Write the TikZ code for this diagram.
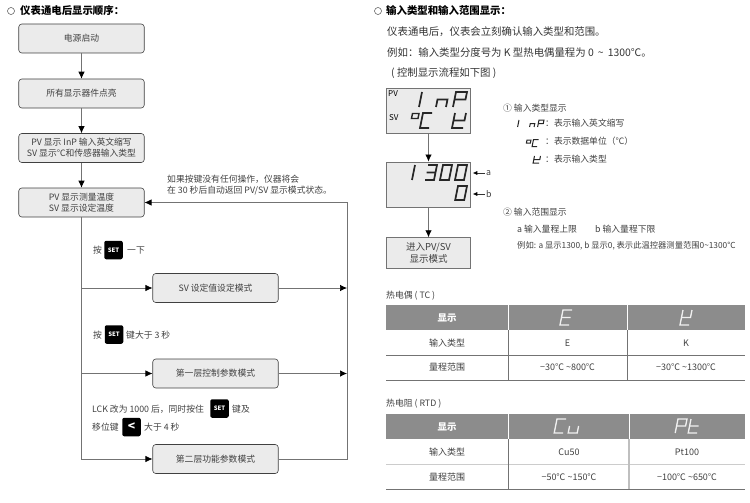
\documentclass[tikz,border=0pt]{standalone}
\usepackage{fontspec}
\setmainfont{Noto Sans CJK SC}
\usetikzlibrary{arrows.meta}
\definecolor{boxfill}{gray}{0.92}
\definecolor{inkgray}{gray}{0.25}
\definecolor{rulegray}{gray}{0.45}
\definecolor{headgray}{gray}{0.55}
\newcommand{\tld}{\textasciitilde}
\newcommand{\segchar}[6][segstroke]{\draw[#1,shift={(#2,#3)},x=#4pt,y=-#5pt,xslant=0.2] #6;}
\newcommand{\segI}{(1,0)--(1,2)}
\newcommand{\segN}{(0,2)--(0,1)--(1,1)--(1,2)}
\newcommand{\segU}{(0,1)--(0,2)--(1,2)--(1,1)}
\newcommand{\segP}{(0,2)--(0,0)--(1,0)--(1,1)--(0,1)}
\newcommand{\segC}{(1,0)--(0,0)--(0,2)--(1,2)}
\newcommand{\segO}{(0,0) rectangle (1,1)}
\newcommand{\segK}{(0,0)--(0,2)--(1,2) (0,1)--(1,1)--(1,0)}
\newcommand{\segT}{(0,0)--(0,2)--(1,2) (0,1)--(1,1)}
\newcommand{\segE}{(1,0)--(0,0)--(0,2)--(1,2) (0,1)--(1,1)}
\newcommand{\segThree}{(0,0)--(1,0)--(1,2)--(0,2) (0,1)--(1,1)}
\newcommand{\segZero}{(0,0) rectangle (1,2)}
\tikzset{
  flowbox/.style={draw=inkgray,fill=boxfill,rounded corners=3pt,line width=0.6pt,minimum width=125.5pt,minimum height=29pt,inner sep=0pt,align=center,font=\fontsize{8.8}{11}\selectfont,text=inkgray},
  lcdbox/.style={draw=rulegray,fill=boxfill,line width=1pt,minimum width=84.5pt,inner sep=0pt,align=center,text=inkgray},
  flowline/.style={draw=rulegray,line width=0.7pt,-{Latex[length=7pt,width=6.5pt,black]}},
  tagline/.style={draw=black!80,line width=0.6pt,shorten >=1.5pt,-{Latex[length=4.5pt,width=4pt,black]}},
  plainline/.style={draw=rulegray,line width=0.7pt},
  txt/.style={anchor=west,inner sep=0pt,text=inkgray,font=\fontsize{8.8}{11}\selectfont,align=left},
  bodytxt/.style={txt,font=\fontsize{10.4}{12}\selectfont,text=black!80},
  titletxt/.style={anchor=west,inner sep=0pt,font=\fontsize{10.4}{12}\selectfont\bfseries},
  bullet/.style={circle,draw=black!70,line width=0.5pt,minimum size=7pt,inner sep=0pt},
  keybox/.style={fill=black,rounded corners=2pt,minimum size=18.5pt,inner sep=0pt,text=white,font=\fontsize{6}{6}\selectfont\bfseries},
  cell/.style={inner sep=0pt,text=inkgray,font=\fontsize{9}{11}\selectfont},
  headcell/.style={inner sep=0pt,text=white,font=\fontsize{9.5}{11}\selectfont\bfseries},
  segstroke/.style={draw=black!85,line width=1.7pt,line join=miter},
  segthin/.style={draw=black!85,line width=1pt},
  seghead/.style={draw=black!6,line width=1.3pt}
}
\begin{document}
\begin{tikzpicture}[x=1pt,y=-1pt]
\useasboundingbox (0,0) rectangle (750,503);

\node[bullet] (lefttick) at (11,11) {};
\node[titletxt] (lefttitle) at (20,11) {仪表通电后显示顺序：};

\node[flowbox] (poweron) at (81.5,38.5) {电源启动};
\node[flowbox] (alllit) at (81.5,93.5) {所有显示器件点亮};
\node[flowbox] (showinp) at (81.5,148) {PV 显示 InP 输入英文缩写\\SV 显示℃和传感器输入类型};
\node[flowbox] (showtemp) at (81.5,202.5) {PV 显示测量温度\\SV 显示设定温度};
\node[flowbox] (svmode) at (215.5,288) {SV 设定值设定模式};
\node[flowbox] (levelone) at (215.5,373.5) {第一层控制参数模式};
\node[flowbox] (leveltwo) at (215.5,459) {第二层功能参数模式};
\coordinate (railtop) at (347,202.5);

\draw[flowline] (poweron) -- (alllit);
\draw[flowline] (alllit) -- (showinp);
\draw[flowline] (showinp) -- (showtemp);
\draw[flowline] (showtemp.south) |- (svmode.west);
\draw[flowline] (showtemp.south) |- (levelone.west);
\draw[flowline] (showtemp.south) |- (leveltwo.west);
\draw[flowline] (leveltwo.east) -| (railtop) -- (showtemp.east);
\draw[flowline] (svmode.east) -- (svmode.east -| railtop);
\draw[flowline] (levelone.east) -- (levelone.east -| railtop);

\node[txt] (backnote) at (167,185.5) {如果按键没有任何操作，仪器将会\\在 30 秒后自动返回 PV/SV 显示模式状态。};

\node[txt] (pressone) at (93,250) {按};
\node[keybox] (keyone) at (113.5,250) {SET};
\node[txt] (pressonetail) at (127,250) {一下};
\node[txt] (presstwo) at (93,335) {按};
\node[keybox] (keytwo) at (114,334.5) {SET};
\node[txt] (presstwotail) at (126,335) {键大于 3 秒};
\node[txt] (lcknote) at (92,409) {LCK 改为 1000 后，同时按住};
\node[keybox] (keythree) at (219.5,408.5) {SET};
\node[txt] (lcktail) at (232,409) {键及};
\node[txt] (shiftnote) at (92,427) {移位键};
\node[keybox,font=\fontsize{12}{12}\selectfont\bfseries] (keyshift) at (131.5,427) {<};
\node[txt] (shifttail) at (144,427) {大于 4 秒};

\node[bullet] (righttick) at (378,11) {};
\node[titletxt] (righttitle) at (386,11) {输入类型和输入范围显示：};
\node[bodytxt] (bodyone) at (387,32) {仪表通电后，仪表会立刻确认输入类型和范围。};
\node[bodytxt] (bodytwo) at (387,52.5) {例如：输入类型分度号为 K 型热电偶量程为 0 \,\tld\, 1300℃。};
\node[bodytxt] (bodythree) at (391,73.5) {( 控制显示流程如下图 )};

\node[lcdbox,minimum height=45.5pt] (lcdone) at (428.5,111) {};
\node[lcdbox,minimum height=45pt] (lcdtwo) at (428.5,184.5) {};
\node[lcdbox,minimum height=30.5pt,font=\fontsize{9.5}{12}\selectfont] (lcdthree) at (428.5,253) {进入PV/SV\\显示模式};
\draw[flowline] (lcdone) -- (lcdtwo);
\draw[flowline] (lcdtwo) -- (lcdthree);

\node[txt,text=black,font=\fontsize{8}{10}\selectfont] (pvlabel) at (388,94) {PV};
\node[txt,text=black,font=\fontsize{8}{10}\selectfont] (svlabel) at (389,118) {SV};
\segchar{412}{92}{10}{7.5}{\segI}
\segchar{439}{92}{10}{7.5}{\segN}
\segchar{456}{92}{11}{7.5}{\segP}
\segchar[segstroke,line width=1.4pt]{412.5}{113.5}{6.5}{5}{\segO}
\segchar{423}{113}{9}{7.5}{\segC}
\segchar{455}{113}{11}{7.5}{\segK}

\segchar{405}{165}{10}{7.5}{\segI}
\segchar{428}{165}{9}{7.5}{\segThree}
\segchar{443}{165}{9}{7.5}{\segZero}
\segchar{458}{165}{9}{7.5}{\segZero}
\segchar{458}{186}{9}{7}{\segZero}

\node[txt] (labela) at (486,173) {a};
\node[txt] (labelb) at (486,194) {b};
\draw[tagline] ([xshift=-1.5pt]labela.west) -- (lcdtwo.east |- labela.west);
\draw[tagline] ([xshift=-1.5pt]labelb.west) -- (lcdtwo.east |- labelb.west);

\node[txt] (noteone) at (503,108) {① 输入类型显示};
\segchar[segthin]{515}{120}{4}{3.5}{\segI}
\segchar[segthin]{531}{120}{4.5}{3.5}{\segN}
\segchar[segthin]{539}{120}{5}{3.5}{\segP}
\node[txt] (noteinp) at (545,123) {：表示输入英文缩写};
\segchar[segthin]{527}{140}{4}{3}{\segO}
\segchar[segthin]{533.5}{139.5}{5}{3.5}{\segC}
\node[txt] (noteunit) at (545,141) {：表示数据单位（℃）};
\segchar[segthin]{534.5}{156}{6}{3.5}{\segK}
\node[txt] (notetype) at (545,159) {：表示输入类型};

\node[txt] (notetwo) at (503,212) {② 输入范围显示};
\node[txt] (noteupper) at (517,229) {a 输入量程上限};
\node[txt] (notelower) at (595,229) {b 输入量程下限};
\node[txt,font=\fontsize{8.3}{10}\selectfont] (noteeg) at (517,246) {例如: a 显示1300, b 显示0, 表示此温控器测量范围0\tld{}1300℃};

\node[txt] (tctitle) at (386,296) {热电偶 ( TC )};
\fill[headgray] (386,304.5) rectangle (745,330);
\draw[plainline] (386,355) -- (745,355);
\draw[plainline] (386,380) -- (745,380);
\draw[plainline] (508,330) -- (508,380);
\draw[plainline] (627,330) -- (627,380);
\draw[white,line width=0.6pt] (508,304.5) -- (508,330);
\draw[white,line width=0.6pt] (627,304.5) -- (627,330);
\node[headcell] (tchead) at (447,318) {显示};
\segchar[seghead]{563}{310}{9}{7.5}{\segE}
\segchar[seghead]{683}{310}{9}{7.5}{\segK}
\node[cell] (tctype) at (447,343) {输入类型};
\node[cell] (tctypee) at (567.5,343) {E};
\node[cell] (tctypek) at (686,343) {K};
\node[cell] (tcrange) at (447,367.5) {量程范围};
\node[cell] (tcrangee) at (567.5,367.5) {−30℃ \tld{}800℃};
\node[cell] (tcrangek) at (686,367.5) {−30℃ \tld{}1300℃};

\node[txt] (rtdtitle) at (386,404) {热电阻 ( RTD )};
\fill[headgray] (386,413.5) rectangle (745,439);
\draw[plainline,draw=black!20] (386,464) -- (745,464);
\draw[plainline] (386,489) -- (745,489);
\draw[plainline] (508,439) -- (508,489);
\draw[plainline,draw=black!25,line width=1.1pt] (629,439) -- (629,489);
\draw[white,line width=0.6pt] (508,413.5) -- (508,439);
\draw[white,line width=0.6pt] (629,413.5) -- (629,439);
\node[headcell] (rtdhead) at (447,427) {显示};
\segchar[seghead]{557}{419}{9}{7}{\segC}
\segchar[seghead]{571}{419}{9}{7}{\segU}
\segchar[seghead]{678}{419}{9}{7}{\segP}
\segchar[seghead]{691}{419}{9}{7}{\segT}
\node[cell] (rtdtype) at (447,452) {输入类型};
\node[cell] (rtdtypecu) at (569,452) {Cu50};
\node[cell] (rtdtypept) at (687,452) {Pt100};
\node[cell] (rtdrange) at (447,477) {量程范围};
\node[cell] (rtdrangecu) at (569,477) {−50℃ \tld{}150℃};
\node[cell] (rtdrangept) at (687,477) {−100℃ \tld{}650℃};
\end{tikzpicture}
\end{document}
